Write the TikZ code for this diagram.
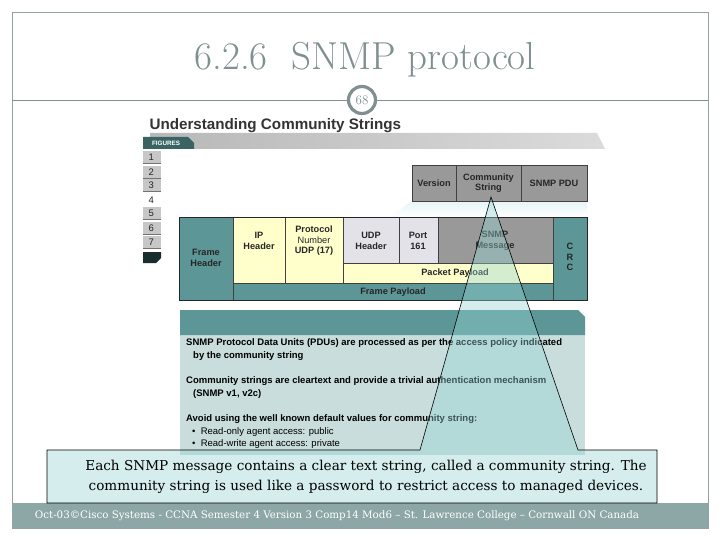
\documentclass[tikz,border=0pt]{standalone}
\usepackage{fontspec}
\setsansfont{Liberation Sans}
\newfontfamily\notefont{DejaVu Serif}
\usepackage{tikz}
\definecolor{slidegray}{RGB}{128,143,143}
\definecolor{frameline}{RGB}{150,162,162}
\definecolor{cteal}{RGB}{92,150,150}
\definecolor{cdarkteal}{RGB}{58,100,100}
\definecolor{cgray}{RGB}{153,153,153}
\definecolor{cyellow}{RGB}{255,255,204}
\definecolor{clightgray}{RGB}{226,226,232}
\definecolor{cpanel}{RGB}{201,221,221}
\definecolor{cwedge}{RGB}{150,212,212}
\definecolor{cfooter}{RGB}{141,167,167}

\begin{document}
\begin{tikzpicture}[x=1pt,y=-1pt]
    \tikzset{font={\sffamily\bfseries\fontsize{9.2}{10.5}\selectfont}}
    \tikzset{field/.style={draw=black!75,line width=.4pt},
             lbl/.style={align=center,text=black!85,inner sep=0pt},
             notetext/.style={anchor=base west,inner sep=0pt,text=black,font={\sffamily\bfseries\fontsize{9.5}{10}\selectfont}},
             bullettext/.style={notetext,font={\sffamily\fontsize{9.5}{10}\selectfont}}}
    \useasboundingbox (0,0) rectangle (720,540);
    \fill[white] (0,0) rectangle (720,540);
    % slide frame and title
    \draw[frameline,line width=.7pt] (12,12) rectangle (708,528);
    \node[anchor=base,text=slidegray,font={\rmfamily\fontsize{39}{42}\selectfont}] (title) at (365,70) {6.2.6\ \ SNMP protocol};
    \node[circle,draw=slidegray,line width=3.2pt,fill=white,minimum size=27pt,inner sep=0pt,
          text=slidegray,font={\rmfamily\fontsize{13}{13}\selectfont}] (page) at (362,100) {68};
    \draw[slidegray,line width=.7pt] (12,100) -- (page.west);
    \draw[slidegray,line width=.7pt] (page.east) -- (708,100);
    % figure heading and tabs
    \node[anchor=base west,text=black!80,font={\sffamily\bfseries\fontsize{15.2}{16}\selectfont}] (head) at (146,130) {Understanding Community Strings};
    \shade[left color=black!28,right color=black!14] (150,133) -- (597,133) -- (605,149) -- (150,149) -- cycle;
    \fill[cdarkteal] (143,137) -- (188,137) -- (194,143) -- (194,149) -- (143,149) -- cycle;
    \node[text=white,font={\sffamily\bfseries\fontsize{6.3}{7}\selectfont}] (figs) at (166,143) {FIGURES};
    \foreach \n/\y in {1/157,2/172,3/185,4/200,5/213,6/228,7/242}{
      \ifnum\n=4 \else
        \fill[black!22] (143,\y-6) rectangle (161,\y+6);
        \draw[black!55,line width=.8pt] (143,\y+6) -- (161,\y+6);
      \fi
      \node[anchor=west,text=black!85,font={\sffamily\fontsize{9.5}{9.5}\selectfont}] (fig\n) at (145,\y) {\n};
    }
    \fill[black!55!cdarkteal] (143,252) -- (161,252) -- (161,258) -- (156,263) -- (143,263) -- cycle;
    % snmp message fields
    \shade[top color=cwedge!25,bottom color=white] (412,201) -- (587,201) -- (587,217) -- (390,217) -- cycle;
    \filldraw[field,fill=cgray] (412,165) rectangle (587,201);
    \draw[field] (456,165) -- (456,201) (521,165) -- (521,201);
    \node[lbl] (ver) at (434,183) {Version};
    \node[lbl] (cs) at (488.5,183) {Community\\String};
    \node[lbl] (pdu) at (554,183) {SNMP PDU};
    % frame
    \filldraw[field,fill=cteal] (179,217) rectangle (233,300);
    \filldraw[field,fill=cyellow] (233,217) rectangle (285,283);
    \filldraw[field,fill=cyellow] (285,217) rectangle (343,283);
    \filldraw[field,fill=clightgray] (343,217) rectangle (399,263);
    \filldraw[field,fill=clightgray] (399,217) rectangle (438,263);
    \filldraw[field,fill=cgray] (438,217) rectangle (553,263);
    \filldraw[field,fill=cyellow] (343,263) rectangle (553,283);
    \filldraw[field,fill=cteal] (233,283) rectangle (553,300);
    \filldraw[field,fill=cteal] (553,217) rectangle (587,300);
    \draw[black!85,line width=.6pt] (179,217) rectangle (587,300);
    \node[lbl] (fh) at (206,258) {Frame\\Header};
    \node[lbl] (ip) at (259,241) {IP\\Header};
    \node[lbl] (proto) at (314,241) {Protocol\\{\mdseries Number}\\UDP (17)};
    \node[lbl] (udp) at (371,241) {UDP\\Header};
    \node[lbl] (port) at (418,241) {Port\\161};
    \node[lbl] (snmp) at (495,241) {SNMP\\Message};
    \node[lbl] (crc) at (570,257) {C\\R\\C};
    \node[lbl] (pp) at (455,273) {Packet Payload};
    \node[lbl] (fp) at (393,292) {Frame Payload};
    % notes panel
    \fill[cpanel] (180,335) rectangle (585,455);
    \fill[cteal] (180,310) -- (578,310) -- (585,317) -- (585,335) -- (180,335) -- cycle;
    \node[notetext] (n1) at (186,345) {SNMP Protocol Data Units (PDUs) are processed as per the access policy indicated};
    \node[notetext] (n2) at (193,358) {by the community string};
    \node[notetext] (n3) at (186,383) {Community strings are cleartext and provide a trivial authentication mechanism};
    \node[notetext] (n4) at (193,396) {(SNMP v1, v2c)};
    \node[notetext] (n5) at (186,421) {Avoid using the well known default values for community string:};
    \node[bullettext] (n6) at (192,434) {\textbullet\ \ Read-only agent access: public};
    \node[bullettext] (n7) at (192,446) {\textbullet\ \ Read-write agent access: private};
    % footer
    \fill[cfooter] (12,503) rectangle (708,528);
    \node[text=white,font={\notefont\fontsize{10.3}{11}\selectfont}] (foot) at (337,516) {Oct-03©Cisco Systems - CCNA Semester 4 Version 3 Comp14 Mod6 – St. Lawrence College – Cornwall ON Canada};
    % callout with wedge to the community string
    \coordinate (apex) at (491,197);
    \coordinate (wl) at (420,450);
    \coordinate (wr) at (578,450);
    \filldraw[draw=black,line width=.6pt,fill=cwedge,fill opacity=.4] (47,450) -- (wl) -- (apex) -- (wr) -- (657,450) -- (657,503) -- (47,503) -- cycle;
    \node[align=center,text=black,font={\notefont\fontsize{13.6}{20}\selectfont}] (msg) at (366,477) {Each SNMP message contains a clear text string, called a community string. The\\community string is used like a password to restrict access to managed devices.};
\end{tikzpicture}
\end{document}
